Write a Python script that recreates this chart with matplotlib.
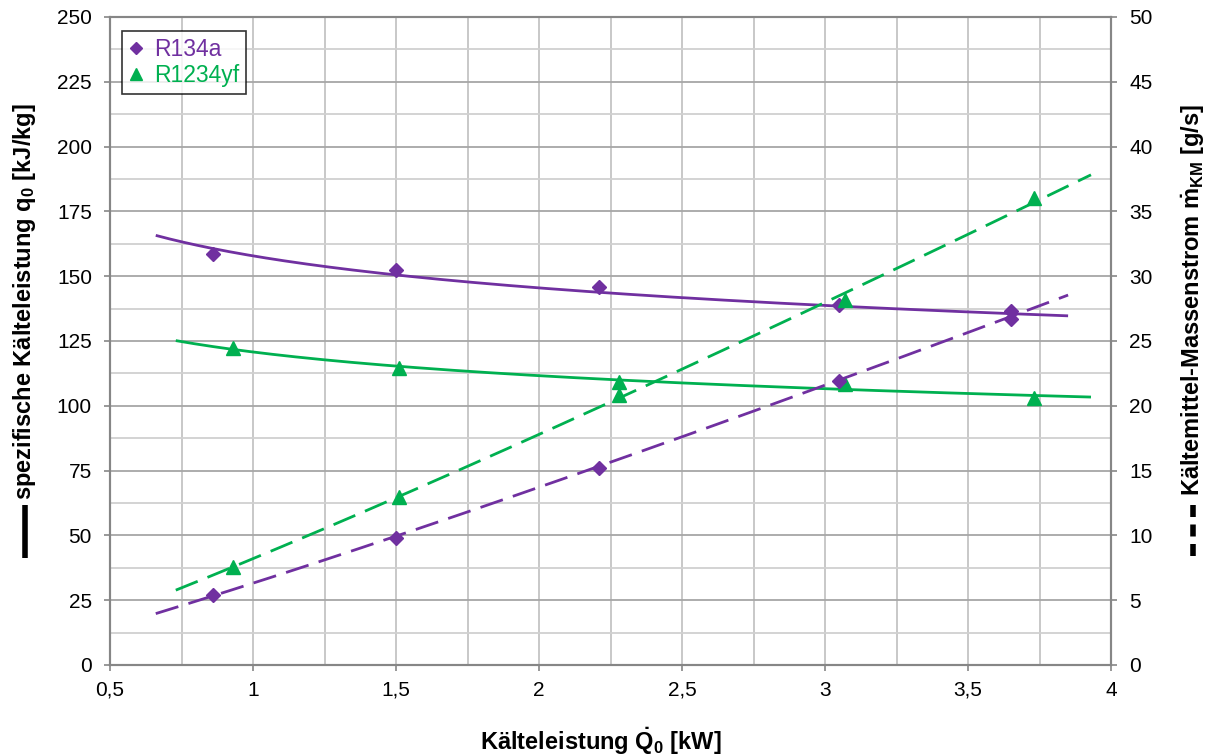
import numpy as np
import matplotlib
matplotlib.use("Agg")
import matplotlib.pyplot as plt
from matplotlib.lines import Line2D
from matplotlib.ticker import MultipleLocator, FuncFormatter

plt.rcParams["font.family"] = ["Liberation Sans", "DejaVu Sans"]
plt.rcParams["mathtext.fontset"] = "custom"
plt.rcParams["mathtext.rm"] = "Liberation Sans"
plt.rcParams["mathtext.it"] = "Liberation Sans:italic"
plt.rcParams["mathtext.bf"] = "Liberation Sans:bold"

# Measured points: cooling capacity [kW], specific cooling capacity [kJ/kg], mass flow [g/s]
r134a_Q = [0.86, 1.50, 2.21, 3.05, 3.65]
r134a_q0 = [158.6, 152.4, 145.8, 138.9, 133.3]
r134a_m = [5.4, 9.8, 15.2, 21.9, 27.3]

r1234yf_Q = [0.93, 1.51, 2.28, 3.07, 3.73]
r1234yf_q0 = [122.2, 114.5, 109.3, 108.4, 102.9]
r1234yf_m = [7.56, 13.0, 20.8, 28.2, 36.0]

series_names = ["R134a", "R1234yf"]
series_colors = ["#7030A0", "#00B050"]
series_markers = ["D", "^"]
marker_sizes = [7.0, 9.5]

TREND_EXTEND = 0.2  # forward/backward forecast of the trendlines [kW]


def power_trend(x, y, n=200):
    x = np.asarray(x, float)
    y = np.asarray(y, float)
    b, lna = np.polyfit(np.log(x), np.log(y), 1)
    xs = np.linspace(x.min() - TREND_EXTEND, x.max() + TREND_EXTEND, n)
    return xs, np.exp(lna) * xs ** b


W, H = 1206, 756
fig = plt.figure(figsize=(W / 100, H / 100), dpi=100)
ax = fig.add_axes([110 / W, 1 - 665 / H, 1001 / W, 648 / H])
ax2 = ax.twinx()

grey_spine = "#868686"
ax.set_xlim(0.5, 4)
ax.set_ylim(0, 250)
ax2.set_ylim(0, 50)

ax.xaxis.set_major_locator(MultipleLocator(0.5))
ax.xaxis.set_minor_locator(MultipleLocator(0.25))
ax.yaxis.set_major_locator(MultipleLocator(25))
ax.yaxis.set_minor_locator(MultipleLocator(12.5))
ax2.yaxis.set_major_locator(MultipleLocator(5))

comma = FuncFormatter(lambda v, p: ("%g" % v).replace(".", ","))
ax.xaxis.set_major_formatter(comma)

ax.grid(which="major", axis="y", color="#A6A6A6", lw=1.3)
ax.grid(which="minor", axis="y", color="#D0D0D0", lw=1.3)
ax.grid(which="both", axis="x", color="#C4C4C4", lw=1.3)
ax.set_axisbelow(True)

for a in (ax, ax2):
    for s in a.spines.values():
        s.set_color(grey_spine)
        s.set_linewidth(1.5)
    a.tick_params(which="major", direction="out", length=4.5, width=1.2,
                  color=grey_spine, labelsize=15, pad=8.5)
    a.tick_params(which="minor", length=0)
ax.spines["top"].set_color("#A6A6A6")
ax.tick_params(axis="x", pad=7)

lw = 2.0
dash = (8.5, 3.8)
groups = [
    (r134a_Q, r134a_q0, r134a_m),
    (r1234yf_Q, r1234yf_q0, r1234yf_m),
]
handles = []
for (Q, q0, m), name, c, mk, ms in zip(groups, series_names, series_colors,
                                      series_markers, marker_sizes):
    xs, ys = power_trend(Q, q0)
    ax.plot(xs, ys, color=c, lw=lw, solid_capstyle="butt", zorder=2)
    xs, ys = power_trend(Q, m)
    ax2.plot(xs, ys, color=c, lw=lw, dashes=dash, dash_capstyle="butt", zorder=2)
    h, = ax.plot(Q, q0, ls="none", marker=mk, ms=ms, color=c, mec=c, zorder=3,
                 label=name)
    ax2.plot(Q, m, ls="none", marker=mk, ms=ms, color=c, mec=c, zorder=3)
    handles.append(h)

leg = ax2.legend(handles=handles, loc="upper left", bbox_to_anchor=(12 / 1001, 1 - 14 / 648),
                 fontsize=16.5, frameon=True, fancybox=False, edgecolor="black",
                 handlelength=0.6, handletextpad=0.5, borderpad=0.3,
                 labelspacing=0.15, markerscale=0.85, borderaxespad=0)
leg.get_frame().set_linewidth(1.2)
for t, c in zip(leg.get_texts(), series_colors):
    t.set_color(c)

label_size = 17
ax.set_xlabel(r"Kälteleistung $\mathbf{\dot{Q}_0}$ [kW]", fontsize=label_size,
              fontweight="bold")
ax.xaxis.set_label_coords(0.49, -0.094)
ax.set_ylabel(r"spezifische Kälteleistung $\mathbf{q_0}$ [kJ/kg]",
              fontsize=label_size, fontweight="bold", va="center")
ax.yaxis.set_label_coords(-85 / 1001, (665 - 302) / 648)
ax2.set_ylabel(r"Kältemittel-Massenstrom $\mathbf{\dot{m}_{KM}}$ [g/s]",
               fontsize=label_size, fontweight="bold", rotation=90, va="center")
ax2.yaxis.set_label_coords(1 + 82 / 1001, (665 - 300) / 648)

# line-style keys in front of the axis titles
fig.add_artist(Line2D([25 / W, 25 / W], [1 - 558 / H, 1 - 505 / H], color="black",
                      lw=4, solid_capstyle="butt"))
fig.add_artist(Line2D([1193 / W, 1193 / W], [1 - 556 / H, 1 - 505 / H], color="black",
                      lw=4, dashes=(2.16, 1.35), dash_capstyle="butt"))

fig.savefig("out.png", dpi=100, facecolor="white")
